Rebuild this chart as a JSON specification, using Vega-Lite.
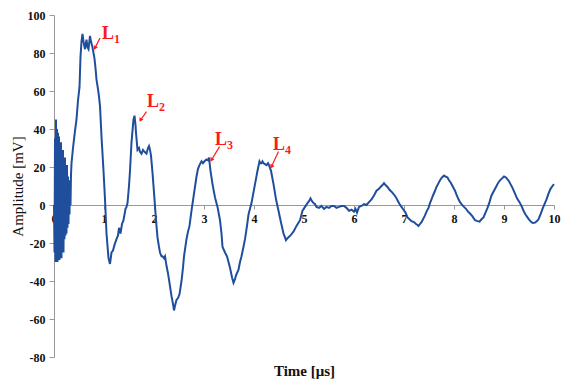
{
  "$schema": "https://vega.github.io/schema/vega-lite/v6.json",
  "width": 500,
  "height": 342,
  "autosize": {"type": "none"},
  "padding": {"left": 54, "top": 15, "right": 8, "bottom": 26},
  "background": "white",
  "config": {"view": {"stroke": null}, "font": "Liberation Serif"},
  "datasets": {
    "signal": [
      {"t":0.00,"v":0},{"t":0.01,"v":-25},{"t":0.02,"v":35},{"t":0.03,"v":-30},{"t":0.04,"v":45},{"t":0.05,"v":-28},{"t":0.06,"v":40},{"t":0.07,"v":-30},{"t":0.08,"v":38},{"t":0.09,"v":-24},{"t":0.10,"v":36},{"t":0.11,"v":-29},{"t":0.12,"v":31},{"t":0.13,"v":-26},{"t":0.14,"v":33},{"t":0.15,"v":-28},{"t":0.16,"v":27},{"t":0.17,"v":-21},{"t":0.18,"v":29},{"t":0.19,"v":-25},{"t":0.20,"v":23},{"t":0.21,"v":-18},{"t":0.22,"v":25},{"t":0.23,"v":-16},{"t":0.24,"v":19},{"t":0.25,"v":-15},{"t":0.26,"v":21},{"t":0.27,"v":-12},{"t":0.28,"v":15},{"t":0.29,"v":-10},{"t":0.30,"v":13},{"t":0.31,"v":-5},{"t":0.32,"v":11},{"t":0.33,"v":0},{"t":0.34,"v":16},{"t":0.35,"v":22},{"t":0.38,"v":30},{"t":0.42,"v":39},{"t":0.45,"v":45},{"t":0.48,"v":55},{"t":0.51,"v":62},{"t":0.53,"v":78},{"t":0.55,"v":86},{"t":0.57,"v":90},{"t":0.59,"v":86},{"t":0.62,"v":82},{"t":0.65,"v":87},{"t":0.67,"v":83},{"t":0.69,"v":82},{"t":0.72,"v":89},{"t":0.74,"v":86},{"t":0.77,"v":83},{"t":0.79,"v":80},{"t":0.81,"v":77},{"t":0.83,"v":72},{"t":0.85,"v":66},{"t":0.88,"v":61},{"t":0.90,"v":57},{"t":0.92,"v":52},{"t":0.95,"v":36},{"t":0.99,"v":18},{"t":1.02,"v":3},{"t":1.05,"v":-15},{"t":1.09,"v":-28},{"t":1.12,"v":-31},{"t":1.15,"v":-25},{"t":1.18,"v":-24},{"t":1.21,"v":-21},{"t":1.25,"v":-18},{"t":1.28,"v":-16},{"t":1.30,"v":-12},{"t":1.33,"v":-15},{"t":1.36,"v":-10},{"t":1.39,"v":-8},{"t":1.43,"v":-2},{"t":1.45,"v":-1},{"t":1.47,"v":1},{"t":1.50,"v":10},{"t":1.52,"v":18},{"t":1.55,"v":33},{"t":1.59,"v":45},{"t":1.61,"v":47},{"t":1.63,"v":42},{"t":1.64,"v":38},{"t":1.67,"v":29},{"t":1.70,"v":30},{"t":1.72,"v":28},{"t":1.75,"v":27},{"t":1.78,"v":29},{"t":1.81,"v":28},{"t":1.85,"v":27},{"t":1.88,"v":30},{"t":1.90,"v":31},{"t":1.92,"v":29},{"t":1.94,"v":26},{"t":1.97,"v":17},{"t":2.01,"v":3},{"t":2.04,"v":-8},{"t":2.07,"v":-17},{"t":2.10,"v":-22},{"t":2.12,"v":-25},{"t":2.15,"v":-27},{"t":2.17,"v":-27},{"t":2.20,"v":-28},{"t":2.22,"v":-27},{"t":2.25,"v":-32},{"t":2.28,"v":-36},{"t":2.31,"v":-41},{"t":2.35,"v":-48},{"t":2.38,"v":-52},{"t":2.40,"v":-55.5},{"t":2.42,"v":-53},{"t":2.45,"v":-50},{"t":2.48,"v":-49},{"t":2.51,"v":-47},{"t":2.55,"v":-40},{"t":2.58,"v":-33},{"t":2.60,"v":-27},{"t":2.65,"v":-18},{"t":2.68,"v":-14},{"t":2.71,"v":-11},{"t":2.75,"v":-3},{"t":2.80,"v":6},{"t":2.85,"v":15},{"t":2.88,"v":19},{"t":2.91,"v":21},{"t":2.95,"v":23},{"t":2.98,"v":22},{"t":3.01,"v":23},{"t":3.05,"v":24},{"t":3.08,"v":23.5},{"t":3.10,"v":25},{"t":3.13,"v":18},{"t":3.17,"v":11},{"t":3.22,"v":4},{"t":3.27,"v":-1},{"t":3.32,"v":-8},{"t":3.35,"v":-15},{"t":3.37,"v":-22},{"t":3.42,"v":-25},{"t":3.46,"v":-27},{"t":3.49,"v":-30},{"t":3.52,"v":-33},{"t":3.56,"v":-38},{"t":3.59,"v":-41},{"t":3.62,"v":-39},{"t":3.64,"v":-37},{"t":3.69,"v":-34},{"t":3.72,"v":-30},{"t":3.75,"v":-27},{"t":3.79,"v":-22},{"t":3.82,"v":-18},{"t":3.86,"v":-11},{"t":3.89,"v":-5},{"t":3.95,"v":1},{"t":4.02,"v":11},{"t":4.07,"v":18},{"t":4.11,"v":23},{"t":4.13,"v":22},{"t":4.15,"v":22},{"t":4.17,"v":23},{"t":4.19,"v":22},{"t":4.22,"v":21.5},{"t":4.25,"v":21},{"t":4.28,"v":22},{"t":4.30,"v":21},{"t":4.34,"v":18},{"t":4.39,"v":11},{"t":4.44,"v":3},{"t":4.49,"v":-3},{"t":4.53,"v":-8},{"t":4.59,"v":-15},{"t":4.62,"v":-17},{"t":4.64,"v":-18.5},{"t":4.67,"v":-17.5},{"t":4.69,"v":-17},{"t":4.73,"v":-16},{"t":4.76,"v":-15},{"t":4.79,"v":-14},{"t":4.85,"v":-11},{"t":4.92,"v":-8},{"t":4.97,"v":-3},{"t":5.02,"v":-1},{"t":5.07,"v":1},{"t":5.10,"v":2},{"t":5.13,"v":3.5},{"t":5.16,"v":2},{"t":5.19,"v":1},{"t":5.22,"v":0.5},{"t":5.25,"v":-1},{"t":5.30,"v":-1.5},{"t":5.35,"v":-0.5},{"t":5.40,"v":-2},{"t":5.45,"v":-1},{"t":5.50,"v":-1.5},{"t":5.55,"v":-0.5},{"t":5.60,"v":-0.5},{"t":5.65,"v":-1.5},{"t":5.70,"v":-1},{"t":5.75,"v":-0.5},{"t":5.80,"v":-0.5},{"t":5.85,"v":-1.5},{"t":5.90,"v":-3},{"t":5.95,"v":-2.5},{"t":6.00,"v":-3.5},{"t":6.03,"v":-2},{"t":6.06,"v":-4},{"t":6.10,"v":-1},{"t":6.15,"v":-0.5},{"t":6.20,"v":0.5},{"t":6.25,"v":0},{"t":6.30,"v":1.5},{"t":6.35,"v":3},{"t":6.40,"v":5},{"t":6.45,"v":7.5},{"t":6.50,"v":8.5},{"t":6.53,"v":9.5},{"t":6.57,"v":10.5},{"t":6.60,"v":11.5},{"t":6.63,"v":10.5},{"t":6.67,"v":9.5},{"t":6.71,"v":8},{"t":6.75,"v":7},{"t":6.80,"v":5.5},{"t":6.84,"v":4},{"t":6.88,"v":2},{"t":6.91,"v":0.5},{"t":6.95,"v":-1},{"t":6.99,"v":-2.5},{"t":7.03,"v":-4},{"t":7.07,"v":-6.5},{"t":7.11,"v":-7.5},{"t":7.15,"v":-8.5},{"t":7.20,"v":-9},{"t":7.24,"v":-10},{"t":7.27,"v":-10.5},{"t":7.29,"v":-11},{"t":7.32,"v":-10},{"t":7.35,"v":-9},{"t":7.38,"v":-7.5},{"t":7.42,"v":-5.5},{"t":7.45,"v":-3.5},{"t":7.49,"v":-1.5},{"t":7.52,"v":1},{"t":7.55,"v":3},{"t":7.58,"v":5},{"t":7.62,"v":7.5},{"t":7.65,"v":9.5},{"t":7.68,"v":11},{"t":7.72,"v":13},{"t":7.76,"v":14.5},{"t":7.80,"v":15.5},{"t":7.83,"v":15},{"t":7.87,"v":14.5},{"t":7.90,"v":13},{"t":7.93,"v":12},{"t":7.97,"v":10},{"t":8.02,"v":7.5},{"t":8.05,"v":5.5},{"t":8.09,"v":3},{"t":8.12,"v":1.5},{"t":8.15,"v":0.5},{"t":8.20,"v":-1},{"t":8.24,"v":-2},{"t":8.28,"v":-3.5},{"t":8.32,"v":-4.5},{"t":8.37,"v":-6},{"t":8.42,"v":-8},{"t":8.47,"v":-8.5},{"t":8.51,"v":-8.8},{"t":8.55,"v":-7.5},{"t":8.59,"v":-6.5},{"t":8.63,"v":-4},{"t":8.67,"v":-1.5},{"t":8.71,"v":1.5},{"t":8.75,"v":5},{"t":8.80,"v":7.5},{"t":8.84,"v":9.5},{"t":8.88,"v":11.5},{"t":8.92,"v":13},{"t":8.96,"v":14},{"t":9.00,"v":15},{"t":9.04,"v":14.5},{"t":9.07,"v":13.5},{"t":9.10,"v":12.5},{"t":9.13,"v":11},{"t":9.17,"v":9},{"t":9.22,"v":6},{"t":9.26,"v":3.5},{"t":9.31,"v":1.5},{"t":9.35,"v":-0.5},{"t":9.39,"v":-3},{"t":9.43,"v":-5},{"t":9.47,"v":-6.5},{"t":9.51,"v":-8},{"t":9.55,"v":-9},{"t":9.58,"v":-9.5},{"t":9.62,"v":-9.3},{"t":9.66,"v":-8.5},{"t":9.69,"v":-7.5},{"t":9.73,"v":-5},{"t":9.77,"v":-2},{"t":9.81,"v":0.5},{"t":9.85,"v":3},{"t":9.89,"v":6},{"t":9.93,"v":8.5},{"t":9.97,"v":10},{"t":10.00,"v":11}
    ],
    "labels": [
      {"t":0.96,"v":87.5,"L":"L","sub":"1"},
      {"t":1.86,"v":51.5,"L":"L","sub":"2"},
      {"t":3.22,"v":31.5,"L":"L","sub":"3"},
      {"t":4.38,"v":29,"L":"L","sub":"4"}
    ],
    "arrows": [
      {"t1":0.92,"v1":87.9,"t2":0.82,"v2":82.6},
      {"t1":1.85,"v1":49.1,"t2":1.73,"v2":44.7},
      {"t1":3.31,"v1":30.7,"t2":3.15,"v2":23.7},
      {"t1":4.49,"v1":28.1,"t2":4.35,"v2":20.2}
    ]
  },
  "encoding": {
    "x": {
      "type": "quantitative",
      "scale": {"domain": [0, 10], "nice": false, "zero": false},
      "title": "Time [μs]",
      "axis": {
        "values": [0,1,2,3,4,5,6,7,8,9,10],
        "labelExpr": "toString(datum.value)",
        "offset": -152,
        "grid": false,
        "domainColor": "#999999",
        "tickColor": "#999999",
        "tickSize": 4,
        "labelPadding": 4,
        "labelFlush": false,
        "labelFont": "Liberation Serif",
        "labelFontSize": 12,
        "labelFontWeight": "bold",
        "labelColor": "#111111",
        "titleFont": "Liberation Serif",
        "titleFontSize": 15,
        "titleFontWeight": "bold",
        "titleColor": "#111111",
        "titleY": 170,
        "titleBaseline": "alphabetic"
      }
    },
    "y": {
      "type": "quantitative",
      "scale": {"domain": [-80, 100], "nice": false, "zero": false},
      "title": "Amplitude [mV]",
      "axis": {
        "values": [-80,-60,-40,-20,0,20,40,60,80,100],
        "labelExpr": "toString(datum.value)",
        "grid": false,
        "domainColor": "#999999",
        "tickColor": "#999999",
        "tickSize": 5,
        "labelPadding": 4,
        "labelFont": "Liberation Serif",
        "labelFontSize": 12,
        "labelFontWeight": "bold",
        "labelColor": "#111111",
        "titleFont": "Liberation Serif",
        "titleFontSize": 15,
        "titleFontWeight": "normal",
        "titleColor": "#111111",
        "titleX": -37,
        "titleY": 171,
        "titleAlign": "center",
        "titleBaseline": "middle",
        "titleAngle": -90
      }
    }
  },
  "layer": [
    {
      "data": {"name": "signal"},
      "mark": {"type": "line", "color": "#1f4e9c", "strokeWidth": 2},
      "encoding": {
        "x": {"field": "t"},
        "y": {"field": "v"}
      }
    },
    {
      "data": {"name": "arrows"},
      "mark": {"type": "rule", "color": "#ff1a1a", "strokeWidth": 1.2},
      "encoding": {
        "x": {"field": "t1"},
        "y": {"field": "v1"},
        "x2": {"field": "t2"},
        "y2": {"field": "v2"}
      }
    },
    {
      "data": {"name": "arrows"},
      "mark": {"type": "point", "shape": "triangle-up", "filled": true, "color": "#ff1a1a", "size": 22, "angle": 208, "opacity": 1},
      "encoding": {
        "x": {"field": "t2"},
        "y": {"field": "v2"}
      }
    },
    {
      "data": {"name": "labels"},
      "mark": {"type": "text", "color": "#ff1a1a", "font": "Liberation Serif", "fontSize": 18, "fontWeight": "bold", "align": "left", "baseline": "alphabetic"},
      "encoding": {
        "x": {"field": "t"},
        "y": {"field": "v"},
        "text": {"field": "L"}
      }
    },
    {
      "data": {"name": "labels"},
      "mark": {"type": "text", "color": "#ff1a1a", "font": "Liberation Serif", "fontSize": 12, "fontWeight": "bold", "align": "left", "baseline": "alphabetic", "dx": 12, "dy": 4},
      "encoding": {
        "x": {"field": "t"},
        "y": {"field": "v"},
        "text": {"field": "sub"}
      }
    }
  ]
}
